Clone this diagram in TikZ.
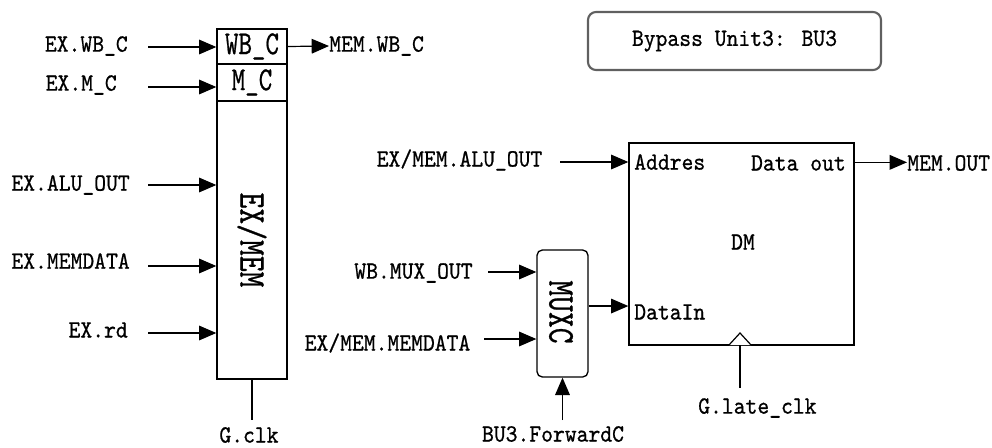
\documentclass[tikz,border=0pt]{standalone}
\usepackage{fontspec}
\newfontfamily\dtt{lmmono10-regular.otf}[FakeBold=0.8]
\usetikzlibrary{arrows.meta}
\begin{document}
\begin{tikzpicture}[x=0.75pt,y=-0.75pt,
  lab/.style={font=\dtt\fontsize{16.9}{18}\selectfont, inner sep=0pt},
  big/.style={font=\dtt\fontsize{22.6}{24}\selectfont, inner sep=0pt},
  mid/.style={font=\dtt\fontsize{19.3}{21}\selectfont},
  arr/.style={line width=0.9pt, -{Triangle[length=13pt,width=11pt]}},
  blk/.style={draw, line width=1pt, inner sep=0pt},
  ln/.style={line width=0.9pt}]
\useasboundingbox (0,0) rectangle (992,447);

% ---------------- EX/MEM register ----------------
\node[blk, minimum width=52.5pt, minimum height=262.5pt] (exmem) at (252,204) {};
\node[blk, mid, minimum width=52.5pt, minimum height=26.25pt] (wbc) at (252,46.5) {\scalebox{1}[1.3]{WB\_C}};
\node[blk, mid, minimum width=52.5pt, minimum height=27.75pt] (mc) at (252,82.5) {\scalebox{1}[1.3]{M\_C}};
\node[big, rotate=-90] (exmemt) at (252,240) {\scalebox{1}[1.25]{EX/MEM}};

\node[lab, anchor=east] (exwbc) at (128,46) {\scalebox{1}[1.1]{EX.WB\_C}};
\node[lab, anchor=east] (exmc) at (117,85) {\scalebox{1}[1.1]{EX.M\_C}};
\node[lab, anchor=east] (exalu) at (130,185) {\scalebox{1}[1.1]{EX.ALU\_OUT}};
\node[lab, anchor=east] (exmd) at (130,261) {\scalebox{1}[1.1]{EX.MEMDATA}};
\node[lab, anchor=east] (exrd) at (128,330) {\scalebox{1}[1.1]{EX.rd}};

\coordinate (a1) at (148,47);
\coordinate (a2) at (148,87);
\coordinate (a3) at (148,185);
\coordinate (a4) at (148,266);
\coordinate (a5) at (148,333);
\draw[arr] (a1) -- (a1 -| wbc.west);
\draw[arr] (a2) -- (a2 -| mc.west);
\draw[arr] (a3) -- (a3 -| exmem.west);
\draw[arr] (a4) -- (a4 -| exmem.west);
\draw[arr] (a5) -- (a5 -| exmem.west);

\node[lab, anchor=west] (memwbc) at (329,46) {\scalebox{1}[1.1]{MEM.WB\_C}};
\draw[arr] (wbc.east) -- (memwbc.west);

\node[lab] (gclk) at (249,435) {\scalebox{1}[1.1]{G.clk}};
\coordinate (gc) at (252,420);
\draw[ln] (exmem.south) -- (gc);

% ---------------- Bypass unit label ----------------
\node[draw=gray!75!black, line width=1.6pt, rounded corners=6pt,
      minimum width=219.75pt, minimum height=43.5pt, lab] (bp) at (734.5,41) {\scalebox{1}[1.1]{Bypass Unit3: BU3}};

% ---------------- MUXC ----------------
\node[blk, rounded corners=4pt, minimum width=38.25pt, minimum height=95.25pt] (mux) at (562.5,313.5) {};
\node[big, rotate=-90] (muxt) at (561,312) {\scalebox{1}[1.25]{MUXC}};

\node[lab] (wbmux) at (413.5,273) {\scalebox{1}[1.1]{WB.MUX\_OUT}};
\node[lab] (exmemmd) at (387.5,343) {\scalebox{1}[1.1]{EX/MEM.MEMDATA}};
\node[lab] (fwd) at (553,434) {\scalebox{1}[1.1]{BU3.ForwardC}};
\coordinate (a7) at (488,272);
\coordinate (a8) at (484,339);
\coordinate (a9) at (562.5,420);
\draw[arr] (a7) -- (a7 -| mux.west);
\draw[arr] (a8) -- (a8 -| mux.west);
\draw[arr] (a9) -- (mux.south);

% ---------------- DM ----------------
\node[blk, minimum width=168.75pt, minimum height=151.5pt] (dm) at (741.5,244) {};
\node[lab, anchor=west] (addr) at (634,162) {\scalebox{1}[1.1]{Addres}};
\node[lab, anchor=east] (dout) at (846,163) {\scalebox{1}[1.1]{Data out}};
\node[lab] (dmt) at (743,242) {\scalebox{1}[1.1]{DM}};
\node[lab, anchor=west] (din) at (634,312) {\scalebox{1}[1.1]{DataIn}};

\node[lab] (exalu2) at (459.5,160) {\scalebox{1}[1.1]{EX/MEM.ALU\_OUT}};
\coordinate (a6) at (560,162);
\draw[arr] (a6) -- (a6 -| dm.west);
\draw[arr] ([yshift=5.6pt]mux.east) -- ([yshift=5.6pt]mux.east -| dm.west);

\node[lab, anchor=west] (memout) at (907,163) {\scalebox{1}[1.1]{MEM.OUT}};
\draw[arr] ([yshift=-15pt]dm.north east) -- ([yshift=-15pt]dm.north east -| memout.west);

% clock input
\coordinate (ck) at (740,345);
\draw[ln, fill=white] (729,345) -- (740,333) -- (751,345);
\node[lab, anchor=west] (glate) at (698,408) {\scalebox{1}[1.1]{G.late\_clk}};
\coordinate (ck2) at (740,388);
\draw[ln] (ck) -- (ck2);
\end{tikzpicture}
\end{document}
